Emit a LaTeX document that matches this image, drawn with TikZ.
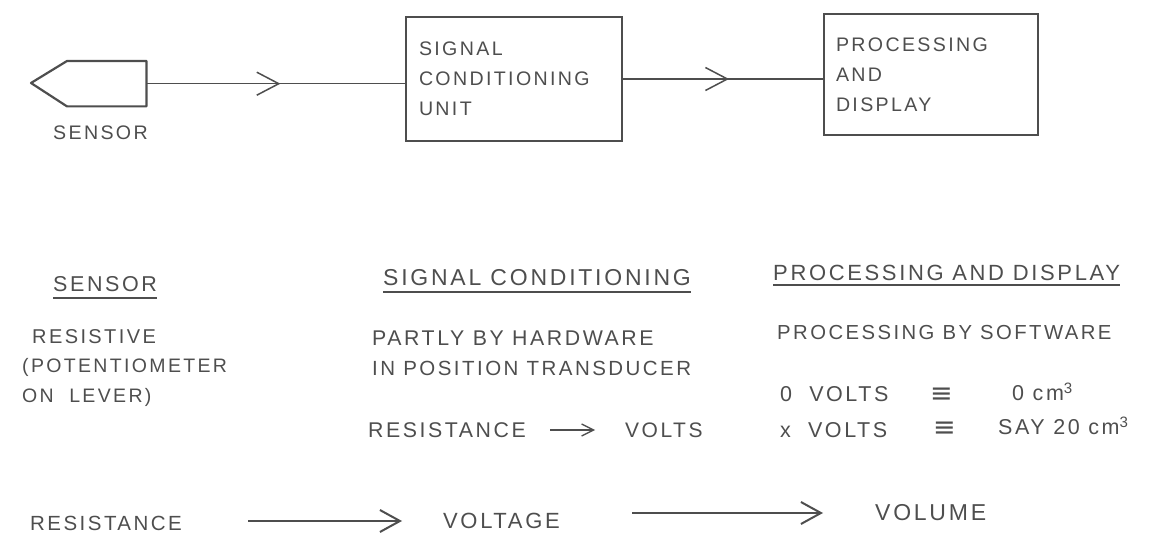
\documentclass[tikz,border=0pt]{standalone}
\usepackage{fontspec}
\setmainfont{Liberation Sans}[LetterSpace=12]
\newfontfamily\symfont{DejaVu Sans}
\usetikzlibrary{arrows.meta,decorations.markings}
\definecolor{ink}{RGB}{78,78,78}
\tikzset{tipa/.tip={Straight Barb[length=22pt, width=23pt, line width=1.5pt]}}
\begin{document}
\begin{tikzpicture}[x=1pt,y=-1pt,
  fs/.style={font=\fontsize{#1}{30}\selectfont},
  lbl/.style={text=ink, fs=20.5, inner sep=0pt, anchor=west},
  sym/.style={lbl, font=\symfont\fontsize{27}{30}\selectfont},
  box/.style={draw=ink, line width=2pt, anchor=north west, align=left, text=ink,
     fs=19.6, inner sep=0pt},
  wire/.style={draw=ink, line width=1.4pt},
  flow/.style={draw=ink, line width=2pt, -{Straight Barb[length=20pt, width=22pt, line width=2pt]}},
  ulin/.style={draw=ink, line width=1.8pt},
  midtip/.style={postaction={decorate, decoration={markings,
      mark=at position #1 with {\arrow[ink]{tipa}}}}}
]
\useasboundingbox (0,0) rectangle (1151,537);

% --- top block diagram ---
\node[minimum width=79pt, minimum height=45pt, inner sep=0pt, anchor=north west] (sensor) at (67,61) {};
\draw[draw=ink, line width=2.2pt, line join=round]
  (sensor.south west) -- (31,83) -- (sensor.north west) -- (sensor.north east)
  -- (sensor.south east) -- cycle;
\coordinate (sensorout) at (sensor.east);
\node[lbl, fs=19.6] (sensorlbl) at (53,133) {SENSOR};

\node[box, minimum width=216pt, minimum height=124pt, text width=190pt] (scu) at (405,16)
  {SIGNAL\\CONDITIONING\\UNIT};
\node[box, minimum width=214pt, minimum height=121pt, text width=190pt] (pad) at (823,13)
  {PROCESSING\\AND\\DISPLAY};

\draw[wire, midtip=134pt] (sensorout) -- (sensorout -| scu.west);
\draw[wire, midtip=106pt] (scu.east) -- (scu.east -| pad.west);

% --- headers ---
\node[lbl, fs=21.5] (h1) at (53,284) {SENSOR};
\node[lbl, fs=23] (h2) at (383,278) {SIGNAL CONDITIONING};
\node[lbl, fs=22] (h3) at (773,273) {PROCESSING AND DISPLAY};
\draw[ulin] ([yshift=-6pt]h1.south west) -- ([yshift=-6pt]h1.south east);
\draw[ulin] ([yshift=-6pt]h2.south west) -- ([yshift=-6pt]h2.south east);
\draw[ulin] ([yshift=-4pt]h3.south west) -- ([yshift=-4pt]h3.south east);

% --- sensor column ---
\node[lbl, fs=20] (s1) at (32,337) {RESISTIVE};
\node[lbl, fs=19.5] (s2) at (22,367) {(POTENTIOMETER};
\node[lbl, fs=19.5] (s3) at (22,397) {ON\ \ LEVER)};

% --- signal conditioning column ---
\node[lbl, fs=21.3] (c1) at (372,338) {PARTLY BY HARDWARE};
\node[lbl] (c2) at (372,368) {IN POSITION TRANSDUCER};
\node[lbl, fs=21.3] (c3a) at (368,430) {RESISTANCE};
\node[lbl, fs=21] (c3b) at (625,430) {VOLTS};
\coordinate (c3s) at ([xshift=-75pt]c3b.west);
\coordinate (c3e) at ([xshift=-30pt]c3b.west);
\draw[draw=ink, line width=1.3pt, -{Straight Barb[length=12pt, width=12pt, line width=1.3pt]}]
  (c3s) -- (c3e);

% --- processing column ---
\node[lbl, fs=20.3] (p1) at (777,333) {PROCESSING BY SOFTWARE};
\node[lbl, fs=21.5] (p2a) at (780,394) {0\ \ VOLTS};
\node[sym] (p2b) at (930,395) {≡};
\node[lbl, fs=21.5] (p2c) at (1012,392) {0 cm\textsuperscript{3}};
\node[lbl, fs=21.5] (p3a) at (780,430) {x\ \ VOLTS};
\node[sym] (p3b) at (933,429) {≡};
\node[lbl, fs=21.5] (p3c) at (998,426) {SAY 20 cm\textsuperscript{3}};

% --- bottom chain ---
\node[lbl, fs=20.5] (r) at (30,523) {RESISTANCE};
\node[lbl, fs=22] (v) at (443,521) {VOLTAGE};
\node[lbl, fs=23] (vol) at (875,513) {VOLUME};
\draw[flow] ([xshift=-195pt]v.west) -- ([xshift=-41pt]v.west);
\draw[flow] ([xshift=-243pt]vol.west) -- ([xshift=-52pt]vol.west);
\end{tikzpicture}
\end{document}
